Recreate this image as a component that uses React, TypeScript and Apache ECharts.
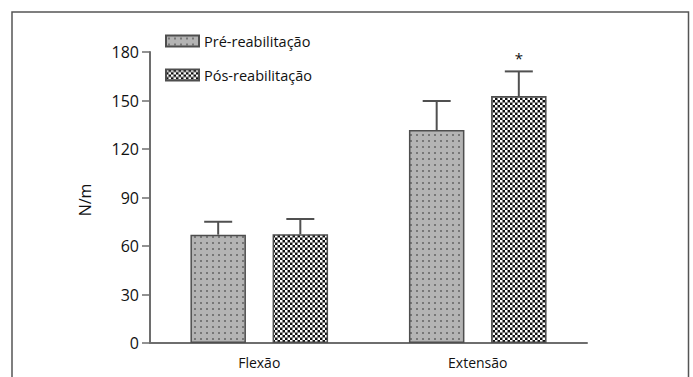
import React, { useEffect, useRef } from "react";
import * as echarts from "echarts";

const categories = ["Flexão", "Extensão"];
const seriesNames = ["Pré-reabilitação", "Pós-reabilitação"];
const preMean = [67, 131.7];
const preSD = [8, 18];
const postMean = [67.3, 152.8];
const postSD = [9.4, 15.2];
const postSig = ["", "*"];
const yTicks = [0, 30, 60, 90, 120, 150, 180];

function makePattern(kind: "pre" | "post"): string {
  const c = document.createElement("canvas");
  if (kind === "pre") {
    c.width = 6;
    c.height = 6;
    const ctx = c.getContext("2d")!;
    ctx.fillStyle = "#b4b4b4";
    ctx.fillRect(0, 0, 6, 6);
    ctx.fillStyle = "#777777";
    ctx.fillRect(2, 2, 2, 2);
  } else {
    c.width = 5;
    c.height = 5;
    const ctx = c.getContext("2d")!;
    ctx.fillStyle = "#8a8a8a";
    ctx.fillRect(0, 0, 5, 5);
    ctx.fillStyle = "#ffffff";
    ctx.fillRect(0, 0, 2, 2);
    ctx.fillRect(3, 3, 2, 2);
    ctx.fillStyle = "#111111";
    ctx.fillRect(3, 0, 2, 2);
    ctx.fillRect(0, 3, 2, 2);
  }
  return c.toDataURL();
}

export default function App() {
  const ref = useRef<HTMLDivElement>(null);
  useEffect(() => {
    const chart = echarts.init(ref.current!, null, { renderer: "svg" });
    const prePat = { image: makePattern("pre"), repeat: "repeat" };
    const postPat = { image: makePattern("post"), repeat: "repeat" };
    const barW = 0.254;
    const gap = 0.48;
    const font = "'Open Sans', 'Noto Sans', sans-serif";
    const errData: any[] = [];
    categories.forEach((_, i) => {
      errData.push([i, preMean[i], preMean[i] + preSD[i], -1, ""]);
      errData.push([i, postMean[i], postMean[i] + postSD[i], 1, postSig[i]]);
    });
    chart.setOption({
      animation: false,
      grid: { left: 150, right: 106, top: 52, bottom: 34 },
      legend: {
        orient: "vertical",
        left: 165,
        top: 31,
        padding: 0,
        itemWidth: 33,
        itemHeight: 11,
        itemGap: 14,
        icon: "rect",
        data: seriesNames,
        textStyle: { fontFamily: font, fontSize: 14.5, color: "#111", lineHeight: 20 },
      },
      xAxis: {
        type: "category",
        data: categories,
        axisLine: { lineStyle: { color: "#6e6e6e", width: 2 } },
        axisTick: { show: false },
        axisLabel: { fontFamily: font, fontSize: 14, color: "#111", margin: 12 },
      },
      yAxis: {
        type: "value",
        min: 0,
        max: 180,
        interval: 30,
        axisLine: { show: true, lineStyle: { color: "#6e6e6e", width: 2 } },
        axisTick: { show: true, length: 8, lineStyle: { color: "#6e6e6e", width: 1.5 } },
        splitLine: { show: false },
        axisLabel: {
          fontFamily: font,
          fontSize: 16,
          color: "#111",
          margin: 11,
          formatter: (v: number) => (yTicks.includes(v) ? String(v) : ""),
        },
      },
      graphic: [
        {
          type: "polyline",
          shape: { points: [[12, 380], [12, 12], [688.5, 12], [688.5, 380]] },
          style: { stroke: "#555", lineWidth: 1.5, fill: "none" },
        },
        {
          type: "text",
          x: 85,
          y: 200,
          rotation: Math.PI / 2,
          style: {
            text: "N/m",
            fontFamily: font,
            fontSize: 16,
            fill: "#111",
            align: "center",
            verticalAlign: "middle",
          },
        },
      ],
      series: [
        {
          name: seriesNames[0],
          type: "bar",
          data: preMean,
          barWidth: barW * 100 + "%",
          barGap: gap * 100 + "%",
          itemStyle: { color: prePat, borderColor: "#4e4e4e", borderWidth: 1.5 },
        },
        {
          name: seriesNames[1],
          type: "bar",
          data: postMean,
          barWidth: barW * 100 + "%",
          barGap: gap * 100 + "%",
          itemStyle: { color: postPat, borderColor: "#4e4e4e", borderWidth: 1.5 },
        },
        {
          type: "custom",
          data: errData,
          z: 5,
          renderItem: (params: any, api: any) => {
            const cat = api.value(0);
            const mean = api.value(1);
            const top = api.value(2);
            const side = api.value(3);
            const sig = errData[params.dataIndex][4];
            const band = api.size([1, 0])[0];
            const off = (band * barW * (1 + gap)) / 2;
            const pMean = api.coord([cat, mean]);
            const pTop = api.coord([cat, top]);
            const x = pMean[0] + side * off;
            const capHalf = 14;
            const style = { stroke: "#505050", lineWidth: 2 };
            const children: any[] = [
              { type: "line", shape: { x1: x, y1: pMean[1], x2: x, y2: pTop[1] }, style },
              { type: "line", shape: { x1: x - capHalf, y1: pTop[1], x2: x + capHalf, y2: pTop[1] }, style },
            ];
            if (sig) {
              children.push({
                type: "text",
                x: x,
                y: pTop[1] - 13,
                style: {
                  text: sig,
                  fontFamily: font,
                  fontSize: 15,
                  fill: "#111",
                  align: "center",
                  verticalAlign: "middle",
                },
              });
            }
            return { type: "group", children };
          },
        },
      ],
    });
    return () => chart.dispose();
  }, []);
  return <div ref={ref} style={{ width: 693, height: 377, position: "absolute", left: 0, top: 0 }} />;
}
